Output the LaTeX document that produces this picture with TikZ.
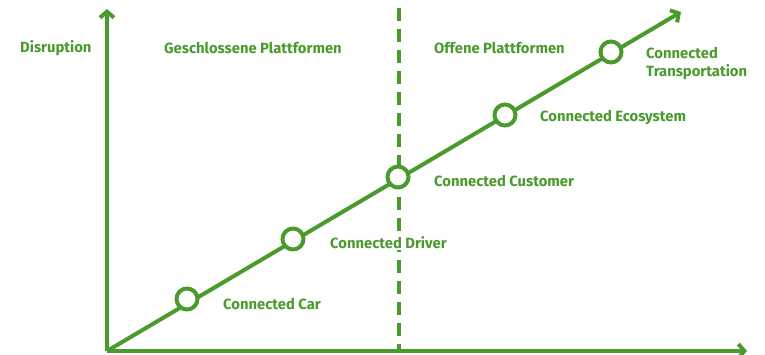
\documentclass[tikz,border=0pt]{standalone}
\usepackage{fontspec}
\setmainfont{Fira Sans}
\usetikzlibrary{arrows.meta}
\definecolor{hpgreen}{RGB}{74,154,46}
\begin{document}
\begin{tikzpicture}[x=1pt,y=-1pt,
  axis/.style={draw=hpgreen,line width=4pt,-{Straight Barb[length=6pt,width=14pt,line width=4pt]}},
  milestone/.style={circle,draw=hpgreen,fill=white,line width=4pt,minimum size=21pt,inner sep=0pt},
  lbl/.style={anchor=west,text=hpgreen,fill=white,font=\bfseries\fontsize{14.8}{18}\selectfont,inner sep=1pt,align=left}]
\useasboundingbox (0,0) rectangle (765,355);
\coordinate (o) at (107,351);
\coordinate (ytip) at (107,9);
\coordinate (xtip) at (747,351);
\coordinate (dtip) at (681,12);
\coordinate (dtop) at (399,8);
\coordinate (dbot) at (399,351);
\draw[hpgreen,line width=4pt,dash pattern=on 13pt off 8pt] (dtop) -- (dbot);
\draw[axis] (o) -- (ytip);
\draw[axis] (o) -- (xtip);
\draw[axis] (o) -- (dtip);
\node[milestone] (c1) at (187,299) {};
\node[milestone] (c2) at (293,239) {};
\node[milestone] (c3) at (398,177) {};
\node[milestone] (c4) at (505,115) {};
\node[milestone] (c5) at (611,52) {};
\node[lbl] (t0) at (19,48) {Disruption};
\node[lbl] (t1) at (163,48) {Geschlossene Plattformen};
\node[lbl] (t2) at (433,48) {Offene Plattformen};
\node[lbl] (l5) at (645,64) {Connected\\Transportation};
\node[lbl] (l4) at (539,118) {Connected Ecosystem};
\node[lbl] (l3) at (433,181) {Connected Customer};
\node[lbl] (l2) at (329,243) {Connected Driver};
\node[lbl] (l1) at (222,304) {Connected Car};
\end{tikzpicture}
\end{document}
